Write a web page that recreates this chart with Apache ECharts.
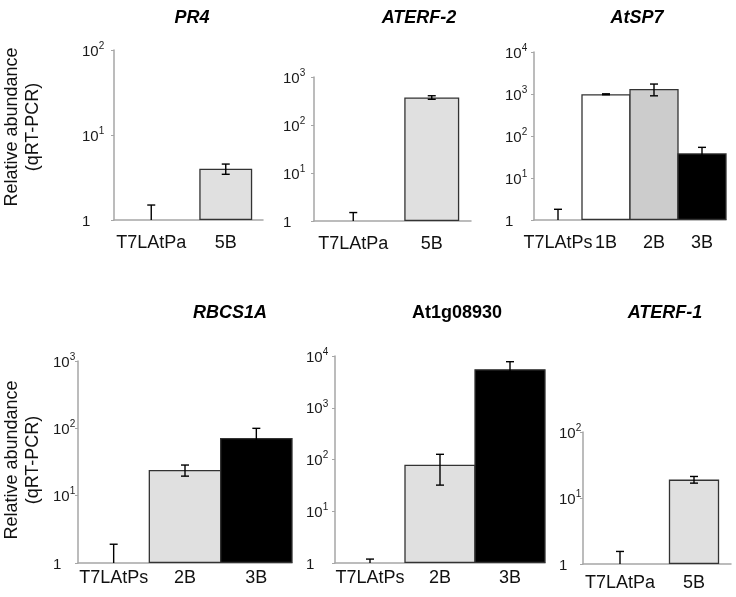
<!DOCTYPE html>
<html>
<head>
<meta charset="utf-8">
<script src="https://cdn.jsdelivr.net/npm/echarts@6/dist/echarts.min.js"></script>
<style>html,body{margin:0;padding:0;background:#fff}#c{width:736px;height:597px}</style>
</head>
<body>
<div id="c"></div>
<script>
// ---- data ----
const pr4Categories = ['T7LAtPa', '5B'];
const pr4Values = [1, 4.0];
const pr4Errors = [0.5, 0.55];

const aterf2Categories = ['T7LAtPa', '5B'];
const aterf2Values = [1, 375];
const aterf2Errors = [0.5, 32];

const atsp7Categories = ['T7LAtPs', '1B', '2B', '3B'];
const atsp7Values = [1, 985, 1315, 38.7];
const atsp7Errors = [0.8, 25, 410, 15];

const rbcs1aCategories = ['T7LAtPs', '2B', '3B'];
const rbcs1aValues = [1, 24, 72];
const rbcs1aErrors = [0.9, 4.5, 28];

const at1gCategories = ['T7LAtPs', '2B', '3B'];
const at1gValues = [1, 79, 5560];
const at1gErrors = [0.19, 47, 2200];

const aterf1Categories = ['T7LAtPa', '5B'];
const aterf1Values = [1, 19];
const aterf1Errors = [0.55, 2.2];

const yTickValues = [1, 10, 100, 1000, 10000];

// ---- styles / layout ----
const FONT = '"Liberation Sans", Arial, Helvetica, sans-serif';
const GRAY = '#e0e0e0', MID = '#cccccc', WHITE = '#ffffff', BLACK = '#000000';
const BORDER_W = 1.3;

const panels = [
  {title: 'PR4', italic: true, tx: 187, ty: 4, cats: pr4Categories, vals: pr4Values, errs: pr4Errors,
   colors: [GRAY, GRAY], left: 114, top: 50, width: 149, height: 170, max: 100, bw: '71%', lm: 32, xm: 14},
  {title: 'ATERF-2', italic: true, tx: 414, ty: 4, cats: aterf2Categories, vals: aterf2Values, errs: aterf2Errors,
   colors: [GRAY, GRAY], left: 314, top: 77, width: 157, height: 144, max: 1000, bw: '70%', lm: 31, xm: 14},
  {title: 'AtSP7', italic: true, tx: 632, ty: 4, cats: atsp7Categories, vals: atsp7Values, errs: atsp7Errors,
   colors: [WHITE, WHITE, MID, BLACK], left: 534, top: 52, width: 192, height: 168, max: 10000, bw: null, lm: 29, xm: 14},
  {title: 'RBCS1A', italic: true, tx: 225, ty: 299, cats: rbcs1aCategories, vals: rbcs1aValues, errs: rbcs1aErrors,
   colors: [GRAY, GRAY, BLACK], left: 78, top: 361, width: 214, height: 202, max: 1000, bw: null, lm: 25, xm: 6},
  {title: 'At1g08930', italic: false, tx: 452, ty: 299, cats: at1gCategories, vals: at1gValues, errs: at1gErrors,
   colors: [GRAY, GRAY, BLACK], left: 335, top: 356, width: 210, height: 207, max: 10000, bw: null, lm: 29, xm: 6},
  {title: 'ATERF-1', italic: true, tx: 660, ty: 299, cats: aterf1Categories, vals: aterf1Values, errs: aterf1Errors,
   colors: [GRAY, GRAY], left: 583, top: 432, width: 148, height: 132, max: 100, bw: '68%', lm: 24, xm: 10}
];

function yFmt(v) {
  const p = Math.round(Math.log10(v));
  return p === 0 ? '{b|1}' : '{b|10}{s|' + p + '}';
}

const option = {
  animation: false,
  backgroundColor: '#fff',
  title: panels.map(p => ({
    text: p.title, left: p.tx, top: p.ty, textAlign: 'center',
    textStyle: {fontFamily: FONT, fontSize: 18, fontWeight: 'bold', fontStyle: p.italic ? 'italic' : 'normal', color: '#000'}
  })),
  grid: panels.map(p => ({left: p.left, top: p.top, width: p.width, height: p.height, containLabel: false})),
  xAxis: panels.map((p, i) => ({
    type: 'category', gridIndex: i, data: p.cats,
    axisLine: {show: true, lineStyle: {color: '#a6a6a6', width: 1.5}},
    axisTick: {show: false},
    axisLabel: {interval: 0, fontFamily: FONT, fontSize: 18, color: '#111', margin: p.xm, hideOverlap: false}
  })),
  yAxis: panels.map((p, i) => ({
    type: 'log', logBase: 10, gridIndex: i, min: yTickValues[0], max: p.max,
    axisLine: {show: true, lineStyle: {color: '#a6a6a6', width: 1.5}},
    axisTick: {show: true, length: 3, lineStyle: {color: '#a6a6a6', width: 1}},
    splitLine: {show: false},
    minorTick: {show: false},
    axisLabel: {
      align: 'left', margin: p.lm, formatter: yFmt,
      rich: {
        b: {fontFamily: FONT, fontSize: 15, color: '#1a1a1a', lineHeight: 18, verticalAlign: 'bottom'},
        s: {fontFamily: FONT, fontSize: 10, color: '#1a1a1a', lineHeight: 18, verticalAlign: 'top'}
      }
    }
  })),
  series: [],
  graphic: [
    {type: 'text', x: 23, y: 127, rotation: Math.PI / 2,
     style: {text: 'Relative abundance\n(qRT-PCR)', font: '18px ' + FONT, fill: '#111', align: 'center', verticalAlign: 'middle', lineHeight: 21}},
    {type: 'text', x: 23, y: 460, rotation: Math.PI / 2,
     style: {text: 'Relative abundance\n(qRT-PCR)', font: '18px ' + FONT, fill: '#111', align: 'center', verticalAlign: 'middle', lineHeight: 21}}
  ]
};

panels.forEach((p, i) => {
  const bar = {
    type: 'bar', xAxisIndex: i, yAxisIndex: i,
    barWidth: p.bw ? p.bw : (p.width / p.cats.length + BORDER_W),
    barCategoryGap: p.bw ? '30%' : '0%',
    data: p.vals.map((v, j) => ({
      value: v,
      itemStyle: {color: p.colors[j], borderColor: '#333', borderWidth: v > 1 ? BORDER_W : 0}
    }))
  };
  option.series.push(bar);
  option.series.push({
    type: 'custom', xAxisIndex: i, yAxisIndex: i, z: 5,
    data: p.vals.map((v, j) => [j, v, p.errs[j]]),
    renderItem: function (params, api) {
      const x = api.value(0), v = api.value(1), e = api.value(2);
      const hi = api.coord([x, v + e]);
      const loV = Math.max(v - e, 1);
      const lo = api.coord([x, loV]);
      const cw = 4;
      const st = {stroke: '#000', lineWidth: 1.4};
      const children = [
        {type: 'line', shape: {x1: hi[0], y1: hi[1], x2: lo[0], y2: lo[1]}, style: st},
        {type: 'line', shape: {x1: hi[0] - cw, y1: hi[1], x2: hi[0] + cw, y2: hi[1]}, style: st}
      ];
      if (v - e > 1) {
        children.push({type: 'line', shape: {x1: lo[0] - cw, y1: lo[1], x2: lo[0] + cw, y2: lo[1]}, style: st});
      }
      return {type: 'group', children: children};
    }
  });
});

const chart = echarts.init(document.getElementById('c'), null, {renderer: 'canvas'});
chart.setOption(option);
</script>
</body>
</html>
